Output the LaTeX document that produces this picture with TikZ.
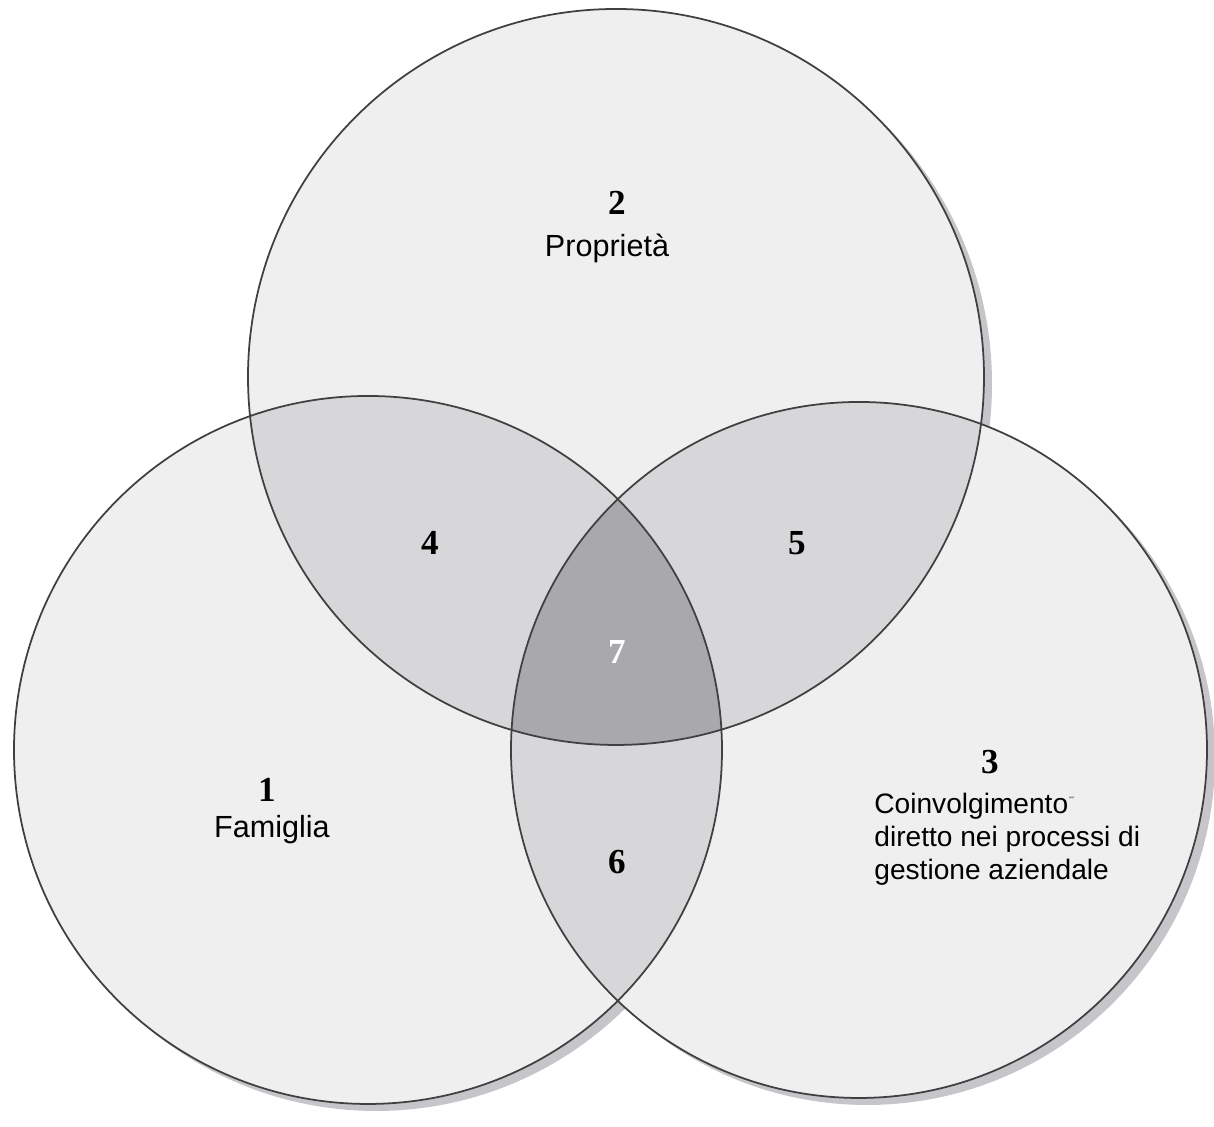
\documentclass[tikz,border=0pt]{standalone}
\usepackage{fontspec}
\setmainfont{Liberation Serif}
\setsansfont{Liberation Sans}
\definecolor{setfill}{HTML}{EFEFEF}
\definecolor{pairfill}{HTML}{D7D7D9}
\definecolor{triplefill}{HTML}{A9A9AD}
\definecolor{shadowgray}{HTML}{C6C6CA}
\tikzset{
  num/.style={font=\fontsize{10}{10}\selectfont\bfseries},
  lbl/.style={font=\fontsize{8.7}{9.4}\selectfont\sffamily,align=center},
}
\begin{document}
\begin{tikzpicture}[line join=round,line cap=round]
		\useasboundingbox (0,0) rectangle (12.14,11.27);
		\coordinate (top) at (6.16,7.50);
		\coordinate (lft) at (3.68,3.77);
		\coordinate (rgt) at (8.59,3.77);
		% shadows
		\fill[shadowgray] ([shift={(0.08,-0.07)}]top) circle (3.68);
		\fill[shadowgray] ([shift={(0.08,-0.07)}]lft) circle (3.54);
		\fill[shadowgray] ([shift={(0.08,-0.07)}]rgt) circle (3.48);
		\fill[setfill] (top) circle (3.68) (lft) circle (3.54) (rgt) circle (3.48);
		% overlaps
		\begin{scope}
		\clip (top) circle (3.68);
		\fill[pairfill] (lft) circle (3.54) (rgt) circle (3.48);
		\end{scope}
		\begin{scope}
		\clip (lft) circle (3.54);
		\fill[pairfill] (rgt) circle (3.48);
		\end{scope}
		\begin{scope}
		\clip (top) circle (3.68);
		\clip (lft) circle (3.54);
		\fill[triplefill] (rgt) circle (3.48);
		\end{scope}
		\draw[black!75,line width=0.5pt] (top) circle (3.68) (lft) circle (3.54) (rgt) circle (3.48);
		% labels
		\node[num] (n2) at (6.17,9.24) {2};
		\node[lbl] (propr) at (6.07,8.79) {Proprietà};
		\node[num] (n1) at (2.67,3.37) {1};
		\node[lbl] (fam) at (2.72,2.97) {Famiglia};
		\node[num] (n3) at (9.90,3.65) {3};
		\node[lbl,font=\fontsize{8}{9.3}\selectfont\sffamily,align=left,anchor=north west] (coinv) at (8.62,3.46) {Coinvolgimento\textcolor{black!40}{\textsuperscript{-}}\\diretto nei processi di\\gestione aziendale};
		\node[num] (n4) at (4.30,5.84) {4};
		\node[num] (n5) at (7.97,5.84) {5};
		\node[num,white] (n7) at (6.17,4.75) {7};
		\node[num] (n6) at (6.17,2.65) {6};
		\end{tikzpicture}
\end{document}
